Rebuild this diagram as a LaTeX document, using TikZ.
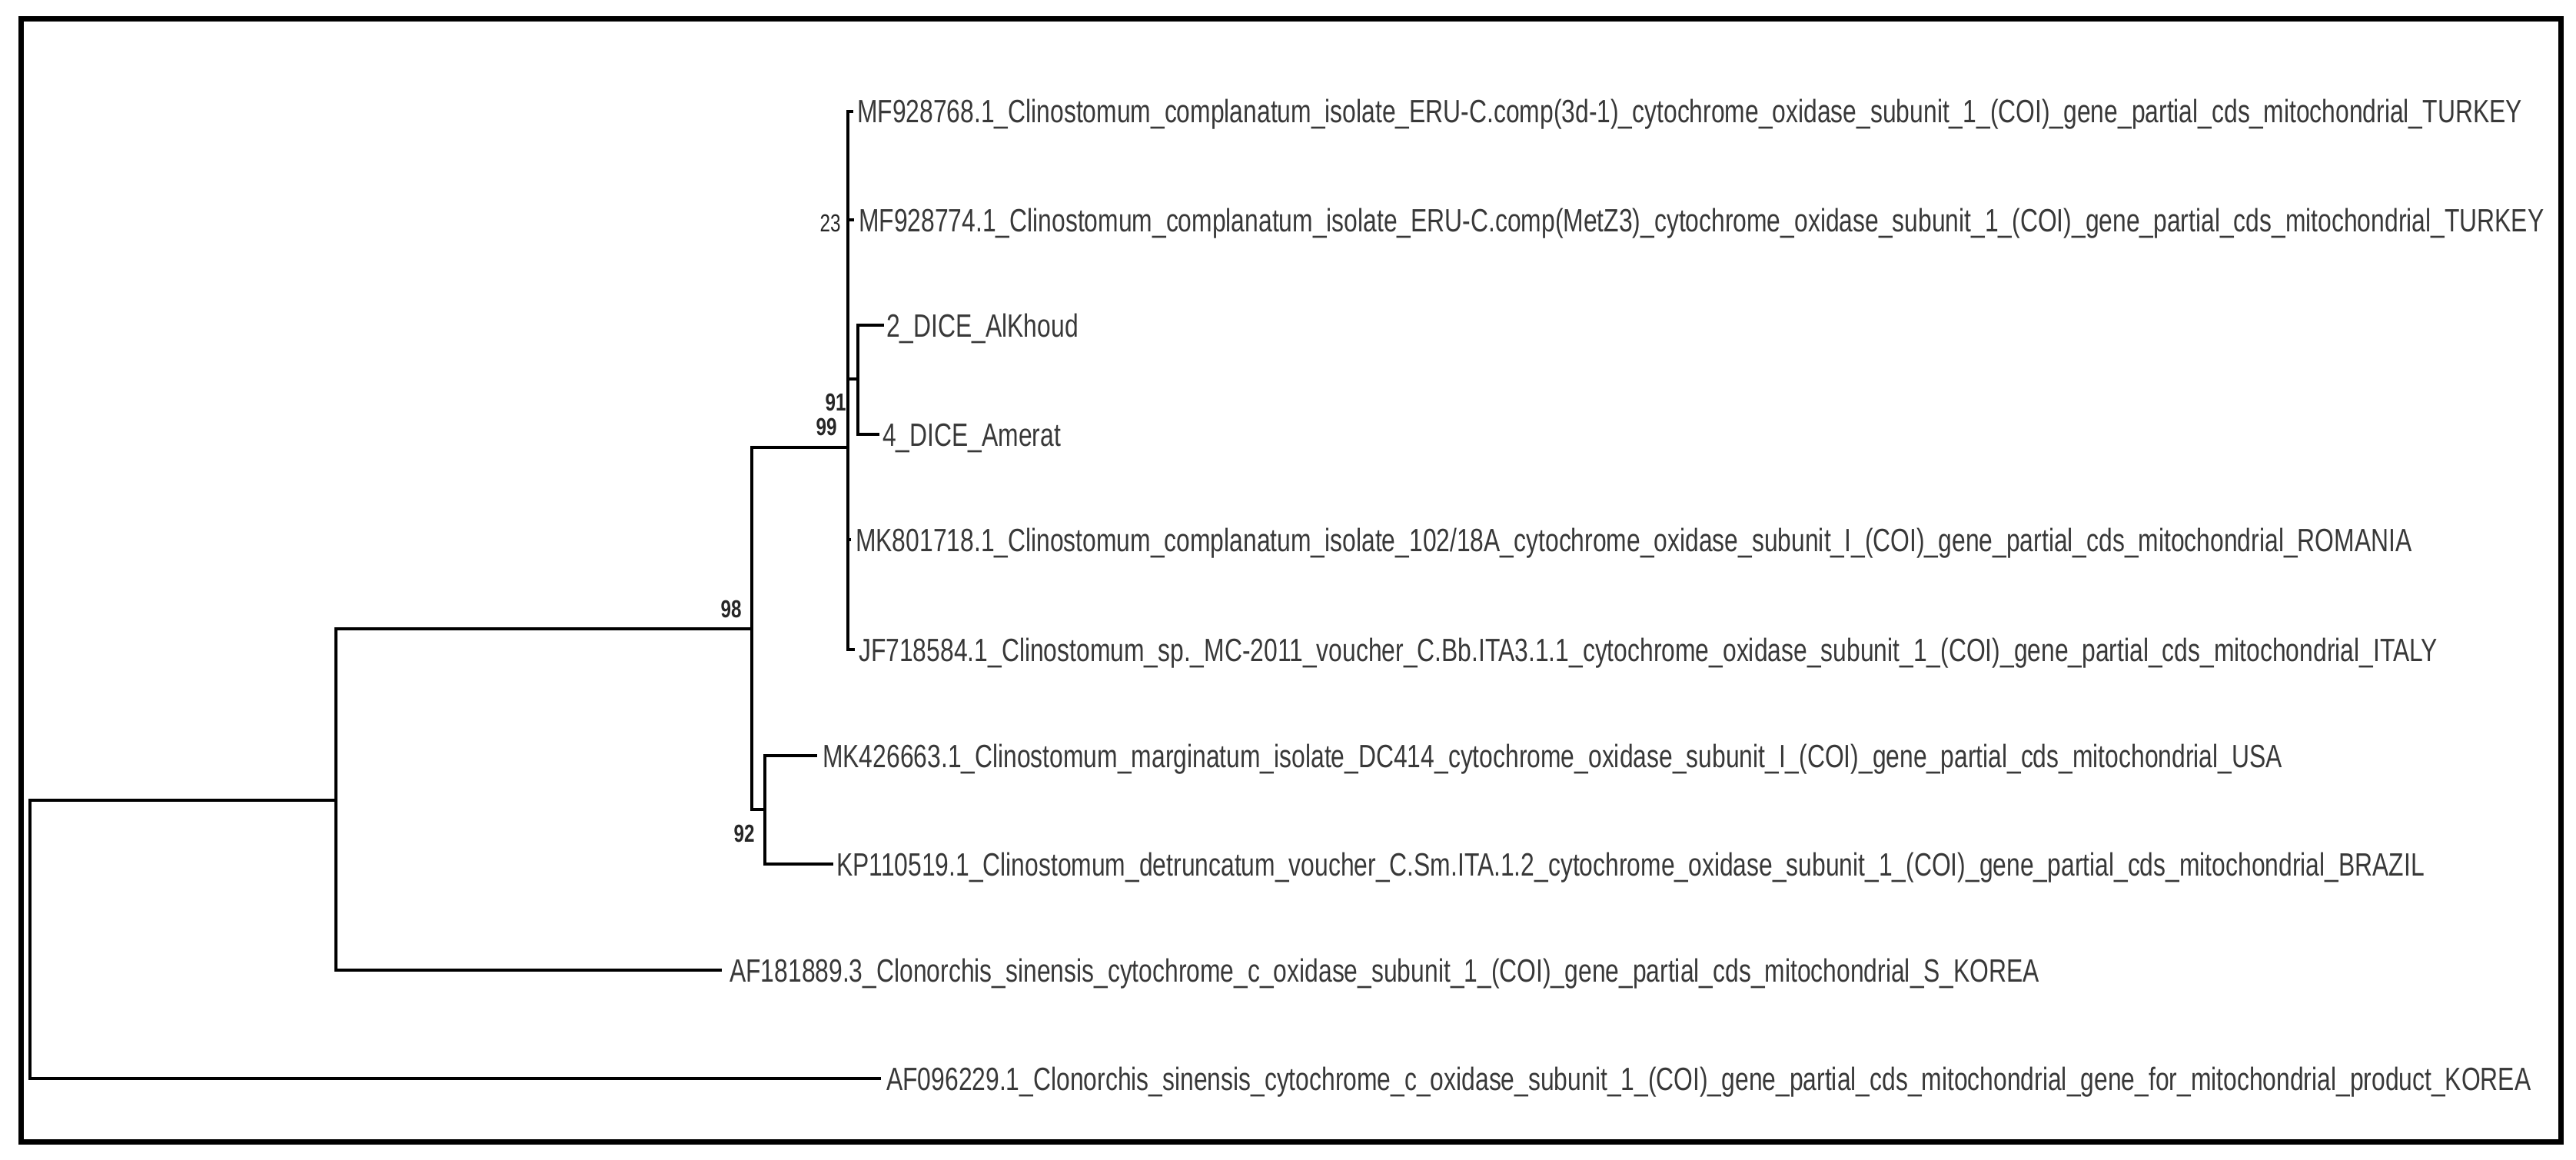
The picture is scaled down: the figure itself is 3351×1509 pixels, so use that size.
\documentclass[tikz,border=0pt]{standalone}
\usepackage{fontspec}
\newfontfamily\labfont{Liberation Sans}[FakeStretch=0.758]
\definecolor{labgray}{HTML}{383838}
\definecolor{bsgray}{HTML}{262626}
\tikzset{
  branch/.style={draw=black, line width=4pt, line cap=rect, line join=miter},
  leaf/.style={anchor=west, inner sep=0pt, text height=30pt, text depth=0pt,
    font=\labfont\fontsize{42}{48}\selectfont, text=labgray},
  boot/.style={anchor=center, inner sep=0pt,
    font=\labfont\bfseries\fontsize{32}{36}\selectfont, text=bsgray},
  bootlight/.style={anchor=center, inner sep=0pt,
    font=\labfont\fontsize{32}{36}\selectfont, text=bsgray},
  frame/.style={draw=black, line width=7pt}
}
\begin{document}
\begin{tikzpicture}[x=1pt,y=-1pt]
\useasboundingbox (0,0) rectangle (3351,1509);
\draw[frame] (27.5,24.5) rectangle (3331.5,1485.5);

% internal nodes
\coordinate (r)   at (39,1222);
\coordinate (n2)  at (437,1041);
\coordinate (n3)  at (978,818);
\coordinate (n99) at (1103,582);
\coordinate (n91) at (1116,493);
\coordinate (n92) at (995,1053);

% branch ends
\coordinate (e68) at (1108,145);
\coordinate (e74) at (1109,286);
\coordinate (e2)  at (1148,423);
\coordinate (e4)  at (1142,565);
\coordinate (e18) at (1105,702);
\coordinate (eJF) at (1110,845);
\coordinate (eMK) at (1061,983);
\coordinate (eKP) at (1082,1124);
\coordinate (eA1) at (937,1262);
\coordinate (eA0) at (1144,1403);

% leaf labels
\node[leaf] (t68) at (1115,145) {MF928768.1\_Clinostomum\_complanatum\_isolate\_ERU-C.comp(3d-1)\_cytochrome\_oxidase\_subunit\_1\_(COI)\_gene\_partial\_cds\_mitochondrial\_TURKEY};
\node[leaf] (t74) at (1117,286) {MF928774.1\_Clinostomum\_complanatum\_isolate\_ERU-C.comp(MetZ3)\_cytochrome\_oxidase\_subunit\_1\_(COI)\_gene\_partial\_cds\_mitochondrial\_TURKEY};
\node[leaf] (t2) at (1153,423) {2\_DICE\_AlKhoud};
\node[leaf] (t4) at (1148,565) {4\_DICE\_Amerat};
\node[leaf] (t18) at (1113,702) {MK801718.1\_Clinostomum\_complanatum\_isolate\_102/18A\_cytochrome\_oxidase\_subunit\_I\_(COI)\_gene\_partial\_cds\_mitochondrial\_ROMANIA};
\node[leaf] (tJF) at (1117,845) {JF718584.1\_Clinostomum\_sp.\_MC-2011\_voucher\_C.Bb.ITA3.1.1\_cytochrome\_oxidase\_subunit\_1\_(COI)\_gene\_partial\_cds\_mitochondrial\_ITALY};
\node[leaf] (tMK) at (1070,983) {MK426663.1\_Clinostomum\_marginatum\_isolate\_DC414\_cytochrome\_oxidase\_subunit\_I\_(COI)\_gene\_partial\_cds\_mitochondrial\_USA};
\node[leaf] (tKP) at (1088,1124) {KP110519.1\_Clinostomum\_detruncatum\_voucher\_C.Sm.ITA.1.2\_cytochrome\_oxidase\_subunit\_1\_(COI)\_gene\_partial\_cds\_mitochondrial\_BRAZIL};
\node[leaf] (tA1) at (949,1262) {AF181889.3\_Clonorchis\_sinensis\_cytochrome\_c\_oxidase\_subunit\_1\_(COI)\_gene\_partial\_cds\_mitochondrial\_S\_KOREA};
\node[leaf] (tA0) at (1153,1403) {AF096229.1\_Clonorchis\_sinensis\_cytochrome\_c\_oxidase\_subunit\_1\_(COI)\_gene\_partial\_cds\_mitochondrial\_gene\_for\_mitochondrial\_product\_KOREA};

% branches
\draw[branch] (r) |- (n2);
\draw[branch] (r) |- (eA0);
\draw[branch] (n2) |- (n3);
\draw[branch] (n2) |- (eA1);
\draw[branch] (n3) |- (n99);
\draw[branch] (n3) |- (n92);
\draw[branch] (n99) |- (e68);
\draw[branch] (n99) |- (e74);
\draw[branch] (n99) |- (n91);
\draw[branch] (n99) |- (e18);
\draw[branch] (n99) |- (eJF);
\draw[branch] (n91) |- (e2);
\draw[branch] (n91) |- (e4);
\draw[branch] (n92) |- (eMK);
\draw[branch] (n92) |- (eKP);

% bootstrap values
\node[bootlight] (b23) at (1080,290) {23};
\node[boot] (b91) at (1087,523) {91};
\node[boot] (b99) at (1075,555) {99};
\node[boot] (b98) at (951,792) {98};
\node[boot] (b92) at (968,1084) {92};
\end{tikzpicture}
\end{document}
